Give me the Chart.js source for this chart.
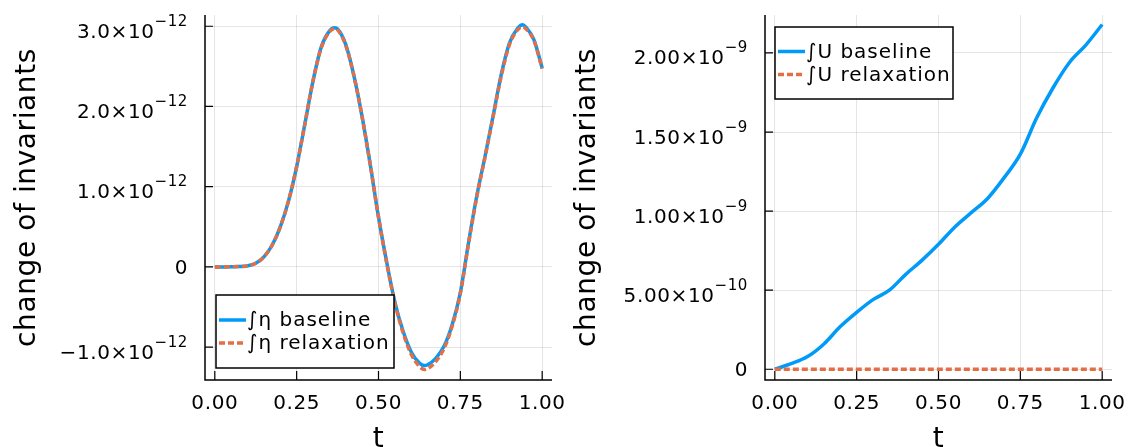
<!DOCTYPE html>
<html>
<head>
<meta charset="utf-8">
<script src="https://cdn.jsdelivr.net/npm/chart.js@4"></script>
<style>
  body { margin: 0; background: #fff; }
  #wrap { position: relative; width: 1131px; height: 447px; background: #fff; }
  canvas { position: absolute; top: 0; }
</style>
</head>
<body>
<div id="wrap">
  <canvas id="chart-eta" width="580" height="447" style="left:0"></canvas>
  <canvas id="chart-u" width="571" height="447" style="left:560px"></canvas>
</div>
<script>
// data

// left panel: change of the integral of eta (units of 1e-12)
var tEta = [0, 0.025, 0.05, 0.075, 0.1, 0.125, 0.15, 0.175, 0.2, 0.225,
    0.25, 0.275, 0.3, 0.325, 0.35, 0.365, 0.375, 0.4, 0.425, 0.45, 0.475,
    0.5, 0.525, 0.55, 0.575, 0.6, 0.625, 0.64, 0.65, 0.675, 0.7, 0.725,
    0.75, 0.775, 0.8, 0.825, 0.85, 0.875, 0.9, 0.925, 0.94, 0.95, 0.975, 1.0]
var etaBaseline = [0, 0, 0.001, 0.004, 0.013, 0.045, 0.125, 0.27, 0.50, 0.82,
    1.25, 1.78, 2.32, 2.74, 2.94, 2.98, 2.965, 2.77, 2.38, 1.87, 1.27,
    0.62, 0.06, -0.44, -0.80, -1.06, -1.20, -1.23, -1.22, -1.14, -0.99, -0.72,
    -0.32, 0.30, 0.88, 1.37, 1.88, 2.40, 2.79, 2.975, 3.02, 2.99, 2.83, 2.48]
var etaRelax = [0, 0, 0.001, 0.004, 0.013, 0.045, 0.125, 0.27, 0.50, 0.82,
    1.25, 1.78, 2.32, 2.73, 2.93, 2.97, 2.955, 2.76, 2.38, 1.87, 1.27,
    0.62, 0.05, -0.45, -0.82, -1.09, -1.24, -1.28, -1.27, -1.18, -1.02, -0.74,
    -0.33, 0.29, 0.87, 1.36, 1.87, 2.38, 2.77, 2.955, 2.99, 2.97, 2.82, 2.47]

// right panel: change of the integral of U (units of 1e-9)
var tU = [0, 0.05, 0.1, 0.15, 0.2, 0.25, 0.3, 0.35, 0.4, 0.45,
    0.5, 0.55, 0.6, 0.65, 0.7, 0.75, 0.8, 0.85, 0.9, 0.95, 1.0]
var uBaseline = [0, 0.035, 0.08, 0.16, 0.27, 0.36, 0.44, 0.50, 0.60, 0.69,
    0.79, 0.90, 0.99, 1.08, 1.21, 1.36, 1.59, 1.78, 1.94, 2.05, 2.18]
var uRelax = [0, 0, 0, 0, 0, 0, 0, 0, 0, 0,
    0, 0, 0, 0, 0, 0, 0, 0, 0, 0, 0]

// tick labels
var xTicks = [0, 0.25, 0.5, 0.75, 1]
var xTickLabels = ['0.00', '0.25', '0.50', '0.75', '1.00']
var etaTicks = [-1, 0, 1, 2, 3]
var etaTickBase = ['\u22121.0\u00d710', '0', '1.0\u00d710', '2.0\u00d710', '3.0\u00d710']
var etaTickExp = ['\u221212', '', '\u221212', '\u221212', '\u221212']
var uTicks = [0, 0.5, 1, 1.5, 2]
var uTickBase = ['0', '5.00\u00d710', '1.00\u00d710', '1.50\u00d710', '2.00\u00d710']
var uTickExp = ['', '\u221210', '\u22129', '\u22129', '\u22129']

var BLUE = '#009af9'
var ORANGE = '#e26f46'
var FONT = '"DejaVu Sans", sans-serif'
var GRID = 'rgba(0,0,0,0.1)'

function points(t, ys) {
    return t.map(function (v, i) { return { x: v, y: ys[i] } })
}

// axes, tick labels with exponents, titles and legend in the Plots.jl look
var plotsLook = {
    id: 'plotsLook',
    beforeDraw: function (chart) {
        chart.ctx.letterSpacing = '0.6px'
    },
    afterDraw: function (chart, args, opts) {
        var ctx = chart.ctx, a = chart.chartArea
        var xs = chart.scales.x, ys = chart.scales.y
        ctx.save()
        ctx.letterSpacing = '0.6px'

        // axis lines
        ctx.strokeStyle = '#000'
        ctx.lineWidth = 1.5
        ctx.beginPath()
        ctx.moveTo(a.left, a.top)
        ctx.lineTo(a.left, a.bottom)
        ctx.lineTo(a.right, a.bottom)
        ctx.stroke()

        // ticks pointing inwards
        ctx.lineWidth = 1.2
        ctx.beginPath()
        xTicks.forEach(function (v) {
            var px = xs.getPixelForValue(v)
            ctx.moveTo(px, a.bottom)
            ctx.lineTo(px, a.bottom - 9)
        })
        opts.ticks.forEach(function (v) {
            var py = ys.getPixelForValue(v)
            ctx.moveTo(a.left, py)
            ctx.lineTo(a.left + 8, py)
        })
        ctx.stroke()

        // y tick labels, mantissa x 10 with a raised exponent
        ctx.fillStyle = '#000'
        ctx.textAlign = 'left'
        ctx.textBaseline = 'alphabetic'
        opts.ticks.forEach(function (v, i) {
            var py = ys.getPixelForValue(v)
            var right = a.left - 17
            var base = opts.base[i], exp = opts.exp[i]
            ctx.font = '20px ' + FONT
            var wb = ctx.measureText(base).width
            if (exp) {
                ctx.font = '15px ' + FONT
                var we = ctx.measureText(exp).width
                ctx.fillText(exp, right - we, py - 0.5)
                ctx.font = '20px ' + FONT
                ctx.fillText(base, right - we - wb, py + 11.5)
            } else {
                ctx.fillText(base, right - wb, py + 7)
            }
        })

        // axis titles
        ctx.font = '28px ' + FONT
        ctx.textAlign = 'center'
        ctx.fillText('t', (a.left + a.right) / 2, chart.height)
        ctx.save()
        ctx.translate(35, (a.top + a.bottom) / 2)
        ctx.rotate(-Math.PI / 2)
        ctx.fillText('change of invariants', 0, 0)
        ctx.restore()

        // legend
        var L = opts.legend
        var bx = a.left + L.dx
        var by = L.fromBottom ? a.bottom - L.dy - L.h : a.top + L.dy
        ctx.fillStyle = '#fff'
        ctx.fillRect(bx, by, L.w, L.h)
        ctx.strokeStyle = '#000'
        ctx.lineWidth = 1.5
        ctx.strokeRect(bx, by, L.w, L.h)
        ctx.font = '20px ' + FONT
        ctx.letterSpacing = '1px'
        ctx.textAlign = 'left'
        ctx.textBaseline = 'middle'
        var rows = chart.data.datasets
        rows.forEach(function (ds, i) {
            var ry = by + L.h / 2 + (i - 0.5) * 23
            ctx.strokeStyle = ds.borderColor
            ctx.lineWidth = 3.5
            ctx.setLineDash(ds.borderDash || [])
            ctx.beginPath()
            ctx.moveTo(bx + 3, ry)
            ctx.lineTo(bx + 30, ry)
            ctx.stroke()
            ctx.setLineDash([])
            ctx.fillStyle = '#000'
            ctx.fillText(ds.label, bx + 31, ry + 1)
        })
        ctx.restore()
    }
}

function makeChart(id, t, base, relax, names, yMin, yMax, yTicks, tickBase, tickExp, rightPad, legend) {
    var ctx = document.getElementById(id).getContext('2d')
    return new Chart(ctx, {
        type: 'line',
        data: {
            datasets: [{
                label: names[0],
                data: points(t, base),
                borderColor: BLUE,
                borderWidth: 3.5,
                pointRadius: 0,
                cubicInterpolationMode: 'monotone',
                fill: false,
                order: 1
            }, {
                label: names[1],
                data: points(t, relax),
                borderColor: ORANGE,
                borderWidth: 3.5,
                borderDash: [6, 3],
                pointRadius: 0,
                cubicInterpolationMode: 'monotone',
                fill: false,
                order: 0
            }]
        },
        options: {
            responsive: false,
            animation: false,
            devicePixelRatio: 1,
            layout: { padding: { left: 0, top: 15, right: rightPad, bottom: 0 } },
            plugins: {
                legend: { display: false },
                tooltip: { enabled: false },
                plotsLook: { ticks: yTicks, base: tickBase, exp: tickExp, legend: legend }
            },
            scales: {
                x: {
                    type: 'linear',
                    min: -0.03,
                    max: 1.03,
                    afterBuildTicks: function (s) {
                        s.ticks = xTicks.map(function (v) { return { value: v } })
                    },
                    afterFit: function (s) {
                        s.height = 67
                        s.paddingLeft = 0
                        s.paddingRight = 0
                    },
                    ticks: {
                        color: '#000',
                        font: { size: 20, family: FONT },
                        padding: 12,
                        maxRotation: 0,
                        autoSkip: false,
                        callback: function (v, i) { return xTickLabels[i] }
                    },
                    grid: { color: GRID, lineWidth: 1, drawTicks: false },
                    border: { display: false }
                },
                y: {
                    type: 'linear',
                    min: yMin,
                    max: yMax,
                    afterBuildTicks: function (s) {
                        s.ticks = yTicks.map(function (v) { return { value: v } })
                    },
                    afterFit: function (s) {
                        s.width = 205
                        s.paddingTop = 0
                        s.paddingBottom = 0
                    },
                    ticks: { display: false },
                    grid: { color: GRID, lineWidth: 1, drawTicks: false },
                    border: { display: false }
                }
            }
        },
        plugins: [plotsLook]
    })
}

makeChart('chart-eta', tEta, etaBaseline, etaRelax,
    ['\u222b\u03b7 baseline', '\u222b\u03b7 relaxation'],
    -1.41, 3.14, etaTicks, etaTickBase, etaTickExp, 28,
    { dx: 11, dy: 12, w: 178, h: 73, fromBottom: true })

makeChart('chart-u', tU, uBaseline, uRelax,
    ['\u222bU baseline', '\u222bU relaxation'],
    -0.068, 2.24, uTicks, uTickBase, uTickExp, 19,
    { dx: 10, dy: 12, w: 178, h: 72, fromBottom: false })
</script>
</body>
</html>
